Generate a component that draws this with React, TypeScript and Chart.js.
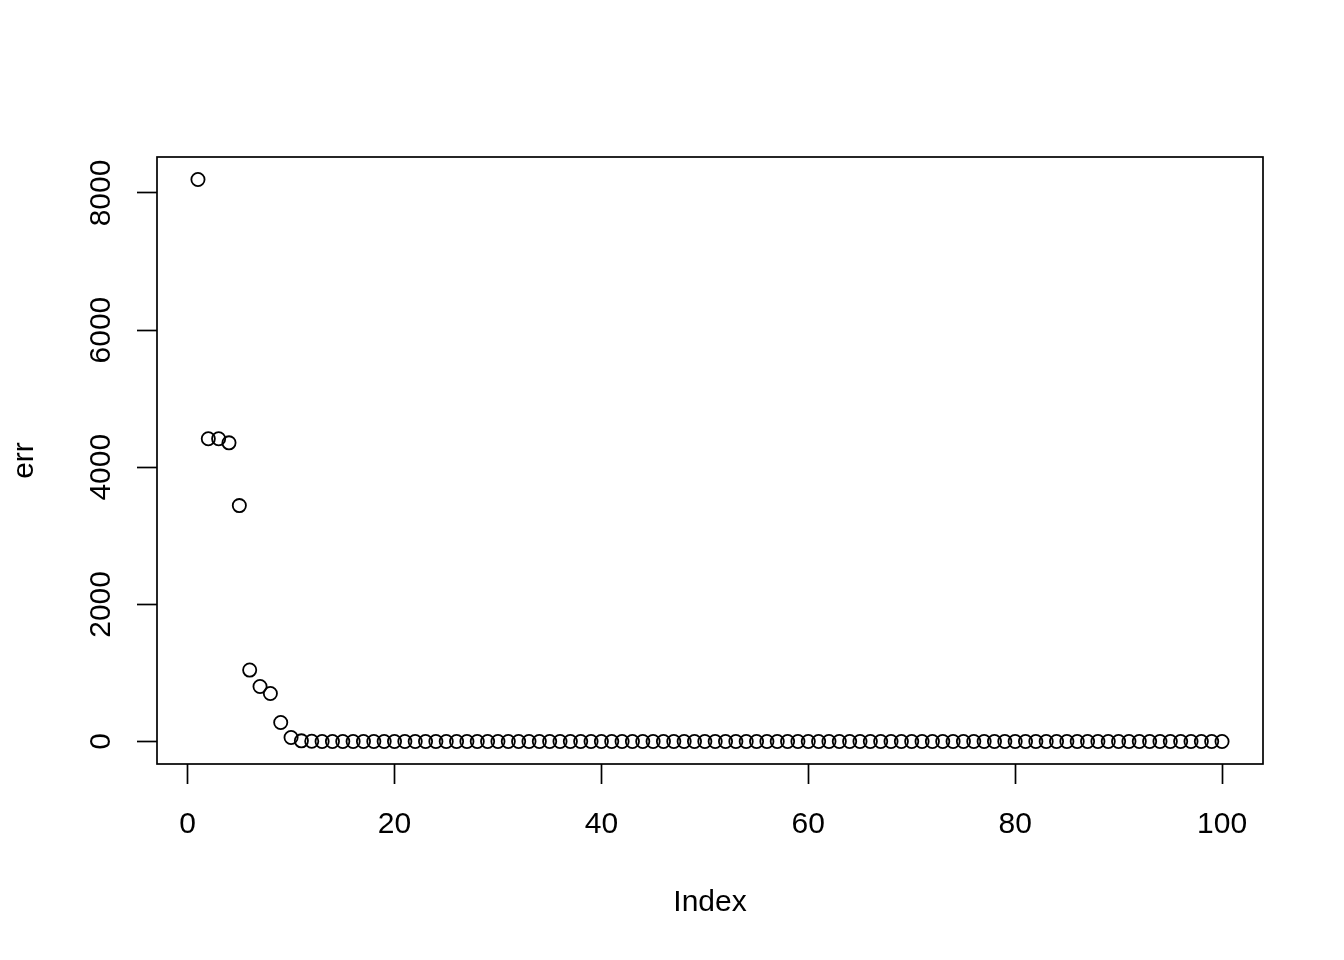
import React, { useEffect, useRef } from "react";
import { Chart, registerables } from "chart.js";

Chart.register(...registerables);

// err values, index 1..100
const errHead = [8197, 4415, 4415, 4356, 3441, 1042, 803, 701, 277, 58, 10, 3];
const errValues = [...errHead, ...new Array(100 - errHead.length).fill(0)];
const indexValues = errValues.map((_, i) => i + 1);

const xTicks = [0, 20, 40, 60, 80, 100];
const yTicks = [0, 2000, 4000, 6000, 8000];

const FONT = "'Liberation Sans', Arial, Helvetica, sans-serif";

// R style box around the plot region
const boxPlugin = {
  id: "rBox",
  afterDraw(chart: Chart) {
    const { ctx, chartArea } = chart;
    ctx.save();
    ctx.strokeStyle = "#000";
    ctx.lineWidth = 1.7;
    ctx.strokeRect(
      chartArea.left,
      chartArea.top,
      chartArea.right - chartArea.left,
      chartArea.bottom - chartArea.top,
    );
    ctx.restore();
  },
};

const App: React.FC = () => {
  const chartRef = useRef<HTMLCanvasElement | null>(null);

  useEffect(() => {
    document.body.style.margin = "0";
    if (!chartRef.current) return;
    const ctx = chartRef.current.getContext("2d");
    if (!ctx) return;

    // R default axis range: data range extended by 4% each side
    const xMin = Math.min(...indexValues);
    const xMax = Math.max(...indexValues);
    const yMin = Math.min(...errValues);
    const yMax = Math.max(...errValues);
    const xPad = (xMax - xMin) * 0.04;
    const yPad = (yMax - yMin) * 0.04;

    const font = { family: FONT, size: 30, lineHeight: 1.2 };

    const myChart = new Chart(ctx, {
      type: "scatter",
      data: {
        datasets: [
          {
            label: "err",
            data: indexValues.map((x, i) => ({ x, y: errValues[i] })),
            pointStyle: "circle",
            pointRadius: 6.6,
            pointBorderWidth: 1.8,
            pointBorderColor: "#000",
            pointBackgroundColor: "rgba(0,0,0,0)",
            pointHoverRadius: 6.6,
          },
        ],
      },
      options: {
        responsive: false,
        animation: false,
        events: [],
        layout: { padding: { left: 0, right: 81, top: 157, bottom: 0 } },
        plugins: {
          legend: { display: false },
          tooltip: { enabled: false },
        },
        scales: {
          x: {
            type: "linear",
            min: xMin - xPad,
            max: xMax + xPad,
            afterBuildTicks: (scale) => {
              scale.ticks = xTicks.map((value) => ({ value }));
            },
            afterFit: (scale) => {
              scale.height = 196;
            },
            border: { display: false },
            grid: {
              drawOnChartArea: false,
              drawTicks: true,
              tickLength: 20,
              tickColor: "#000",
              tickWidth: 1.7,
            },
            ticks: {
              color: "#000",
              font,
              padding: 23,
              autoSkip: false,
              maxRotation: 0,
              callback: (v) => String(v),
            },
            title: {
              display: true,
              text: "Index",
              color: "#000",
              font,
              padding: { top: 0, bottom: 39 },
            },
          },
          y: {
            type: "linear",
            min: yMin - yPad,
            max: yMax + yPad,
            afterBuildTicks: (scale) => {
              scale.ticks = yTicks.map((value) => ({ value }));
            },
            afterFit: (scale) => {
              scale.width = 157;
            },
            border: { display: false },
            grid: {
              drawOnChartArea: false,
              drawTicks: true,
              tickLength: 20,
              tickColor: "#000",
              tickWidth: 1.7,
            },
            ticks: {
              color: "#000",
              font,
              padding: 2,
              autoSkip: false,
              minRotation: 90,
              maxRotation: 90,
              crossAlign: "center",
              callback: (v) => String(v),
            },
            title: {
              display: true,
              text: "err",
              color: "#000",
              font,
              padding: { top: 7, bottom: 0 },
            },
          },
        },
      },
      plugins: [boxPlugin],
    });

    return () => {
      myChart.destroy();
    };
  }, []);

  return (
    <div style={{ width: 1344, height: 960, background: "#fff" }}>
      <canvas ref={chartRef} width={1344} height={960} />
    </div>
  );
};

export default App;
